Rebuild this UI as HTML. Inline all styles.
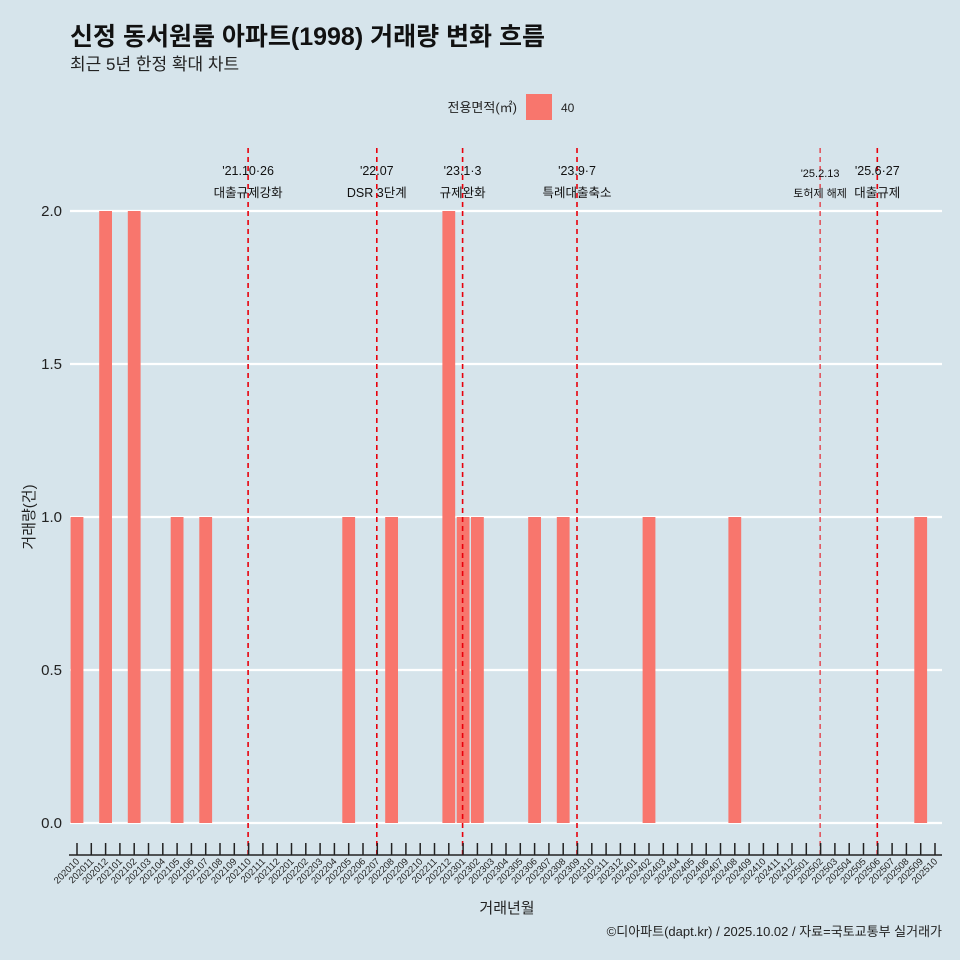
<!DOCTYPE html>
<html><head><meta charset="utf-8">
<style>
body{margin:0;background:#d6e4eb;}
svg{display:block;font-family:"Liberation Sans","Noto Sans CJK KR",sans-serif;}
</style></head>
<body>
<svg id="chart" width="960" height="960" viewBox="0 0 960 960">
<rect width="960" height="960" fill="#d6e4eb"/>
<text x="70" y="45" font-size="25" font-weight="bold" fill="#111">신정 동서원룸 아파트(1998) 거래량 변화 흐름</text>
<text x="70" y="70" font-size="17" fill="#222">최근 5년 한정 확대 차트</text>
<g>
<text x="517" y="112" font-size="13" text-anchor="end" fill="#222">전용면적(㎡)</text>
<rect x="526" y="94" width="26" height="26" fill="#f8766d"/>
<text x="561" y="112" font-size="12" fill="#222">40</text>
</g>
<g id="grid"></g><g id="bars"></g><g id="events"></g><g id="xaxis"></g><g id="yaxis"></g>
<text x="507" y="913" font-size="15" text-anchor="middle" fill="#222">거래년월</text>
<text transform="translate(34,517) rotate(-90)" font-size="15" text-anchor="middle" fill="#222">거래량(건)</text>
<text x="942" y="936" font-size="13" text-anchor="end" fill="#222">©디아파트(dapt.kr) / 2025.10.02 / 자료=국토교통부 실거래가</text>
</svg>
<script>
const categories=[];
for(let y=2020,m=10;!(y===2025&&m===11);){categories.push(''+y+(m<10?'0':'')+m);m++;if(m>12){m=1;y++;}}
const barMonths=['202010','202012','202102','202105','202107','202205','202208','202212','202301','202302','202306','202308','202402','202408','202509'];
const barValues=[1,2,2,1,1,1,1,2,1,1,1,1,1,1,1];
const yTicks=[0,0.5,1,1.5,2];
const yTickLabels=['0.0','0.5','1.0','1.5','2.0'];
const eventMonths=['202110','202207','202301','202309','202502','202506'];
const eventDates=["'21.10·26","'22.07","'23.1·3","'23.9·7","'25.2.13","'25.6·27"];
const eventNames=["대출규제강화","DSR 3단계","규제완화","특례대출축소","토허제 해제","대출규제"];
const NS='http://www.w3.org/2000/svg';
const x=i=>77+i*14.3;
const y=v=>823-v*306;
function mk(tag,attrs,parent,txt){const e=document.createElementNS(NS,tag);for(const k in attrs)e.setAttribute(k,attrs[k]);if(txt!==undefined)e.textContent=txt;document.getElementById(parent).appendChild(e);return e;}
yTicks.forEach((t,i)=>{
 const l=mk('line',{x1:70,x2:942,y1:y(t),y2:y(t),stroke:'#fff','stroke-width':2.2},'grid');
 
 
 const tx=mk('text',{x:62,y:y(t)+5,'font-size':15,'text-anchor':'end',fill:'#222'},'yaxis',yTickLabels[i]);
 
 
});
barMonths.forEach((m,i)=>{
 const ci=categories.indexOf(m);
 const r=mk('rect',{x:x(ci)-6.4,width:12.8,y:y(barValues[i]),height:y(0)-y(barValues[i]),fill:'#f8766d'},'bars');
 
 
});
eventMonths.forEach((m,i)=>{
 const ci=categories.indexOf(m);const xx=x(ci)-0.5;
 const small=i===4;
 const l=mk('line',{x1:xx,x2:xx,y1:148,y2:855,stroke:'#e8000b','stroke-width':small?1:1.6,'stroke-dasharray':'5,4'},'events');
 
 
 const fs=small?11:12.5;
 const t1=mk('text',{x:xx,y:small?177:175,'font-size':fs,'text-anchor':'middle',fill:'#111'},'events',eventDates[i]);
 
 
 const t2=mk('text',{x:xx,y:197,'font-size':fs,'text-anchor':'middle',fill:'#111'},'events',eventNames[i]);
 
 
});
const ax=mk('line',{x1:69,x2:942,y1:855,y2:855,stroke:'#222','stroke-width':1.5},'xaxis');


categories.forEach((c,i)=>{
 const tk=mk('line',{x1:x(i),x2:x(i),y1:843,y2:855,stroke:'#222','stroke-width':1.5},'xaxis');
 
 
 const t=mk('text',{transform:`translate(${x(i)+3},${862}) rotate(-45)`,'font-size':9.5,'text-anchor':'end',fill:'#222'},'xaxis',c);
 
 
});
</script>
</body></html>
